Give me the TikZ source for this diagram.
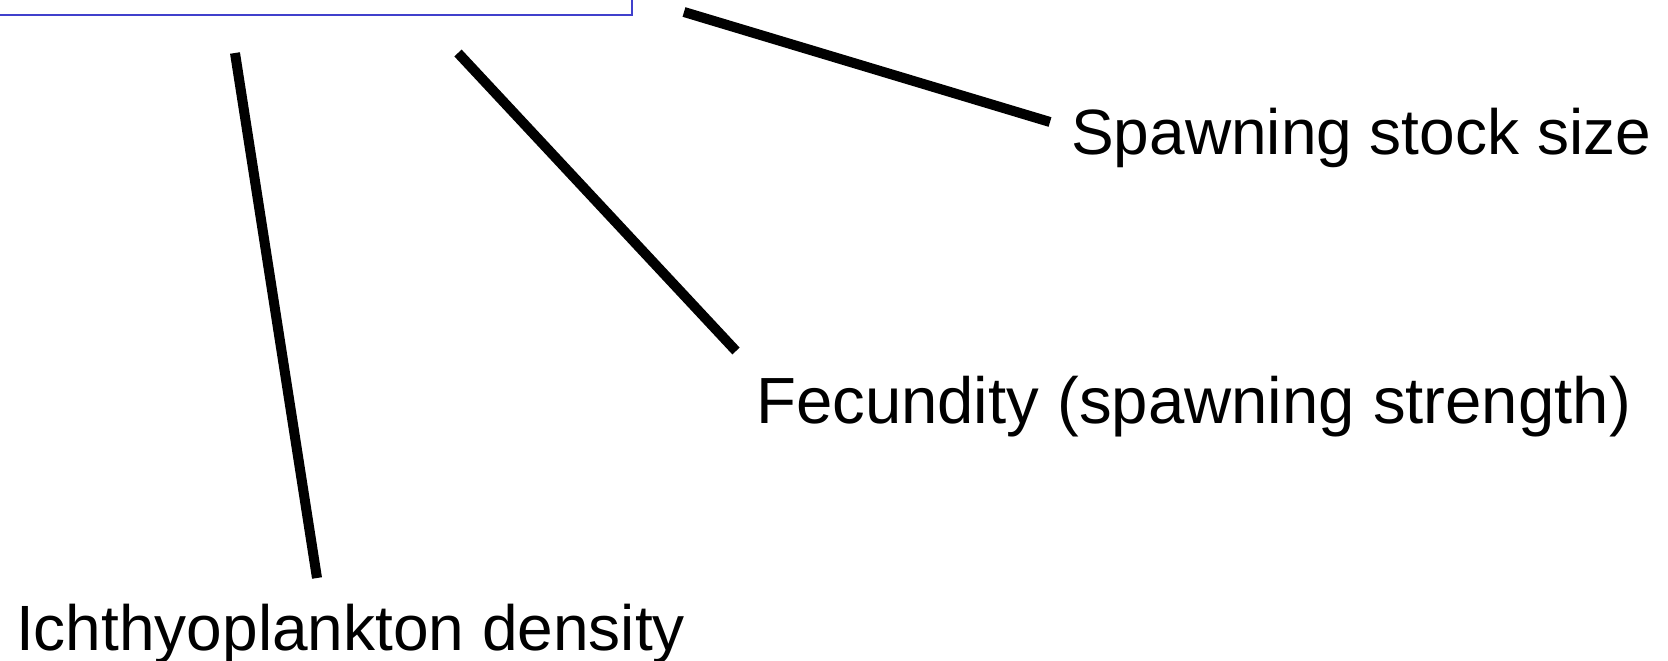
\documentclass[tikz,border=0pt]{standalone}
\usepackage{fontspec}
\setmainfont{Liberation Sans}
\definecolor{boxblue}{RGB}{64,64,204}
\begin{document}
\begin{tikzpicture}[x=1pt,y=-1pt,
  lbl/.style={anchor=base west,inner sep=0pt,font=\fontsize{64}{70}\selectfont},
  bar/.style={line width=10pt,black}]
\useasboundingbox (0,0) rectangle (1668,661);
\clip (0,0) rectangle (1668,661);
\draw[boxblue,line width=2.5pt] (-20,-20) rectangle (632,15);
% text labels
\node[lbl] (sss) at (1071,154) {Spawning stock size};
\node[lbl,font=\fontsize{65.3}{70}\selectfont] (fec) at (756,423) {Fecundity (spawning strength)};
\node[lbl] (ich) at (16,650) {Ichthyoplankton density};
% connector end points
\coordinate (a1) at (235,53);
\coordinate (a2) at (317,578);
\coordinate (b1) at (458,53);
\coordinate (b2) at (736,351);
\coordinate (c1) at (684,12);
\coordinate (c2) at (1050,122);
\draw[bar] (a1) -- (a2);
\draw[bar] (b1) -- (b2);
\draw[bar] (c1) -- (c2);
\end{tikzpicture}
\end{document}
